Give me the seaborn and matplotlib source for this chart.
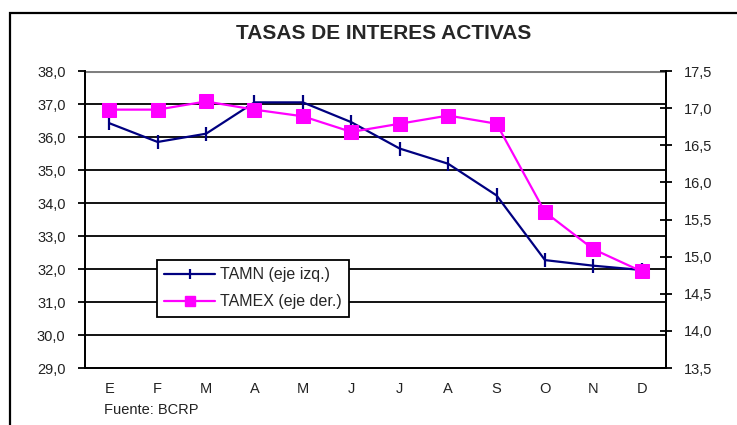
import seaborn as sns
import matplotlib.pyplot as plt
import matplotlib.patches as mpatches
import numpy as np
import pandas as pd

months = ["E", "F", "M", "A", "M", "J", "J", "A", "S", "O", "N", "D"]
tamn = [36.42, 35.85, 36.1, 37.05, 37.05, 36.45, 35.65, 35.19, 34.23, 32.27, 32.1, 31.97]
tamex = [16.98, 16.98, 17.09, 16.98, 16.89, 16.68, 16.79, 16.9, 16.79, 15.6, 15.1, 14.8]
left_ticks = [29, 30, 31, 32, 33, 34, 35, 36, 37, 38]
right_ticks = [13.5, 14.0, 14.5, 15.0, 15.5, 16.0, 16.5, 17.0, 17.5]


def coma(v):
    return f"{v:.1f}".replace(".", ",")


sns.set_style("white")
plt.rcParams['font.family'] = ['Liberation Sans', 'DejaVu Sans']

df = pd.DataFrame({"pos": np.arange(len(months)), "mes": months, "tamn": tamn, "tamex": tamex})

fig = plt.figure(figsize=(7.37, 4.25), dpi=100)
ax = fig.add_axes([0.1153, 0.1341, 0.7884, 0.6988])
ax2 = ax.twinx()

sns.lineplot(data=df, x="pos", y="tamn", ax=ax, color="#000080", linewidth=1.6,
             marker="|", markersize=10, markeredgewidth=1.6, markeredgecolor="#000080",
             label="TAMN (eje izq.)", legend=False)
sns.lineplot(data=df, x="pos", y="tamex", ax=ax2, color="#ff00ff", linewidth=1.6,
             marker="s", markersize=10, markeredgecolor="#ff00ff",
             label="TAMEX (eje der.)", legend=False)

# ejes
ax.set_xlim(-0.5, len(months) - 0.5)
ax.set_ylim(29, 38)
ax2.set_ylim(13.5, 17.5)
ax.set_xlabel("")
ax.set_ylabel("")
ax2.set_ylabel("")

ax.set_yticks(left_ticks)
ax.set_yticklabels([coma(v) for v in left_ticks])
ax2.set_yticks(right_ticks)
ax2.set_yticklabels([coma(v) for v in right_ticks])

ax.set_xticks(np.arange(len(months) + 1) - 0.5)
ax.set_xticklabels([])
ax.set_xticks(np.arange(len(months)), minor=True)
ax.set_xticklabels(months, minor=True)

ax.tick_params(axis="x", which="major", direction="out", length=5, width=1.3, color="black")
ax.tick_params(axis="x", which="minor", length=0, pad=10, labelsize=10.5, labelcolor="#222222")
ax.tick_params(axis="y", direction="out", length=5, width=1.3, color="black",
               pad=9, labelsize=10.5, labelcolor="#222222", left=True)
ax2.tick_params(axis="y", direction="inout", length=9, width=1.3, color="black",
                pad=8, labelsize=10.5, labelcolor="#222222", right=True)

# lineas de division
for v in left_ticks[1:-1]:
    ax.axhline(v, color="black", linewidth=1.3, zorder=0.5)
ax.axhline(38, color="#808080", linewidth=2.2, zorder=0.5)

for a in (ax, ax2):
    a.spines["top"].set_visible(False)
    for s in ("left", "right", "bottom"):
        a.spines[s].set_color("black")
        a.spines[s].set_linewidth(1.3)

ax.set_zorder(0)
ax2.set_zorder(1)

h1 = plt.Line2D([], [], color="#000080", linewidth=1.6, marker="|", markersize=7, markeredgewidth=1.6)
h2 = plt.Line2D([], [], color="#ff00ff", linewidth=1.6, marker="s", markersize=7)
leg = ax2.legend([h1, h2], ["TAMN (eje izq.)", "TAMEX (eje der.)"],
                 loc="upper left", bbox_to_anchor=(0.11, 0.39), fontsize=11.5,
                 frameon=True, fancybox=False, edgecolor="black", framealpha=1,
                 handlelength=3.2, handletextpad=0.3, borderpad=0.45, labelspacing=0.75)
leg.get_frame().set_linewidth(1.3)

fig.text(0.52, 0.922, "TASAS DE INTERES ACTIVAS", ha="center", va="center",
         fontsize=15, fontweight="bold")
fig.text(0.141, 0.035, "Fuente: BCRP", ha="left", va="center", fontsize=10.5, color="#222222")

# marco exterior
arriba = 1 - 13 / 425
marco = mpatches.Rectangle((10 / 737, -0.2), 1.2, arriba + 0.2, transform=fig.transFigure,
                           fill=False, edgecolor="black", linewidth=1.6, clip_on=False)
fig.patches.append(marco)

fig.savefig("out.png", dpi=100)
